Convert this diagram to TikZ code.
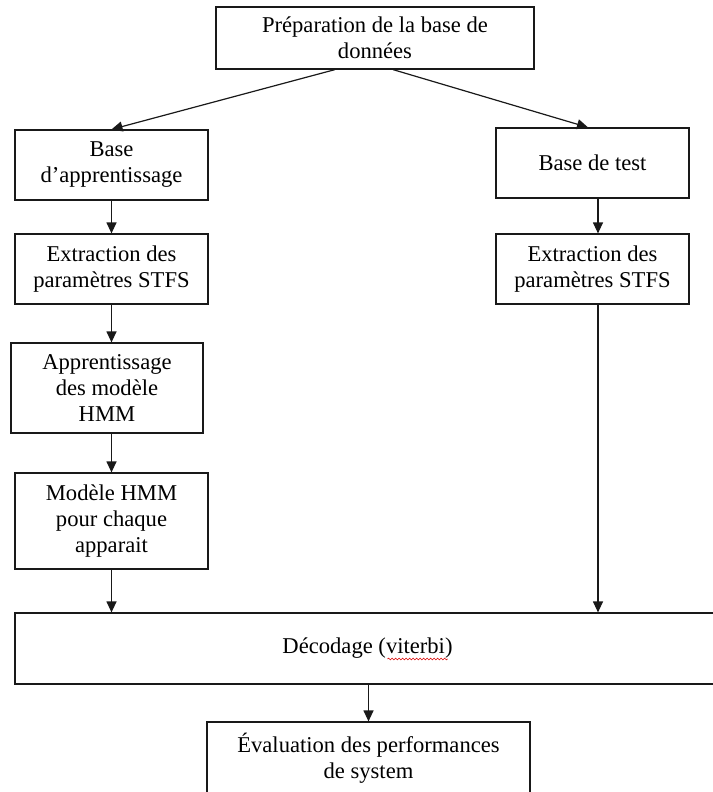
\documentclass[tikz,border=0pt]{standalone}
\usepackage{fontspec}
\setmainfont{Liberation Serif}
\usetikzlibrary{arrows.meta,decorations.pathmorphing}
\begin{document}
\begin{tikzpicture}[x=1pt,y=-1pt,
  box/.style={draw=black!90, line width=1.2pt, rectangle, align=center,
    inner sep=0pt, font=\fontsize{22.6}{26}\selectfont},
  link/.style={draw=black!90, line width=1.2pt, -{Triangle[length=11pt,width=10pt]}},
  squiggle/.style={draw=red!85!black, line width=0.6pt, decorate,
    decoration={snake, amplitude=0.9pt, segment length=3.5pt}},
]
\useasboundingbox (0,0) rectangle (712,792);
\fill[white] (0,0) rectangle (712,792);

% processing stages
\node[box, minimum width=318pt, minimum height=62pt] (prep) at (375,38)
  {Préparation de la base de\\données};
\node[box, minimum width=193pt, minimum height=70pt] (learn) at (111.5,165)
  {Base\\d’apprentissage};
\node[box, minimum width=193pt, minimum height=70pt] (lext) at (111.5,269)
  {Extraction des\\paramètres STFS};
\node[box, minimum width=192pt, minimum height=90pt] (ltrain) at (107,388)
  {Apprentissage\\des modèle\\HMM};
\node[box, minimum width=193pt, minimum height=96pt] (lmodel) at (111.5,521)
  {Modèle HMM\\pour chaque\\apparait};
\node[box, minimum width=193pt, minimum height=70pt] (test) at (592.5,163)
  {Base de test};
\node[box, minimum width=193pt, minimum height=70pt] (rext) at (592.5,269)
  {Extraction des\\paramètres STFS};
\node[box, minimum width=705pt, minimum height=71pt] (dec) at (367.5,648.5)
  {Décodage (viterbi)};
\node[box, minimum width=323pt, minimum height=72pt] (eval) at (368.5,758)
  {Évaluation des performances\\de system};

% spell-check mark under "viterbi"
\draw[squiggle] ([shift={(20,10.5)}]dec.center) -- ([shift={(80,10.5)}]dec.center);

% connectors
\draw[link] ([xshift=-40pt]prep.south) -- (learn.north);
\draw[link] ([xshift=18pt]prep.south) -- ([xshift=-4.5pt]test.north);
\draw[link] (learn.south) -- (learn.south |- lext.north);
\draw[link] (lext.south) -- (lext.south |- ltrain.north);
\draw[link] (lmodel.north |- ltrain.south) -- (lmodel.north);
\draw[link] (lmodel.south) -- (lmodel.south |- dec.north);
\draw[link] ([xshift=5.5pt]test.south) -- ([xshift=5.5pt]test.south |- rext.north);
\draw[link] ([xshift=5.5pt]rext.south) -- ([xshift=5.5pt]rext.south |- dec.north);
\draw[link] (eval.north |- dec.south) -- (eval.north);
\end{tikzpicture}
\end{document}
